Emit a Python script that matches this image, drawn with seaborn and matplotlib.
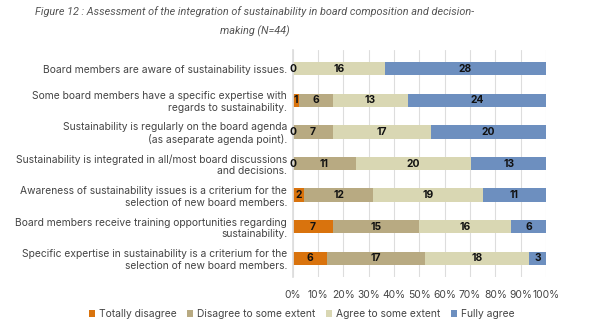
import matplotlib
matplotlib.use("Agg")
import matplotlib.pyplot as plt
import seaborn as sns
import numpy as np
import pandas as pd
from matplotlib.ticker import PercentFormatter
from matplotlib.patches import Patch

categories = [
    "Board members are aware of sustainability issues.",
    "Some board members have a specific expertise with\nregards to sustainability.",
    "Sustainability is regularly on the board agenda\n(as aseparate agenda point).",
    "Sustainability is integrated in all/most board discussions\nand decisions.",
    "Awareness of sustainability issues is a criterium for the\nselection of new board members.",
    "Board members receive training opportunities regarding\nsustainability.",
    "Specific expertise in sustainability is a criterium for the\nselection of new board members.",
]
series_names = ["Totally disagree", "Disagree to some extent", "Agree to some extent", "Fully agree"]
totally_disagree = [0, 1, 0, 0, 2, 7, 6]
disagree_some = [0, 6, 7, 11, 12, 15, 17]
agree_some = [16, 13, 17, 20, 19, 16, 18]
fully_agree = [28, 24, 20, 13, 11, 6, 3]
x_ticks = [0, 0.1, 0.2, 0.3, 0.4, 0.5, 0.6, 0.7, 0.8, 0.9, 1.0]

colors = ["#D9730D", "#B8AA82", "#D9D7B3", "#6D8FBF"]

sns.set_theme(style="white")
plt.rcParams['font.family'] = ['Inter', 'DejaVu Sans']

counts = np.array([totally_disagree, disagree_some, agree_some, fully_agree], dtype=float)
totals = counts.sum(axis=0)
shares = counts / totals
cum = np.cumsum(shares, axis=0)

fig = plt.figure(figsize=(6.0, 3.28), dpi=100)
ax = fig.add_axes([0.488, 0.155, 0.422, 0.693])

for i in range(3, -1, -1):
    df = pd.DataFrame({"cat": categories, "val": cum[i]})
    sns.barplot(data=df, x="val", y="cat", orient="h", color=colors[i],
                width=0.42, ax=ax, saturation=1, linewidth=0)

# value labels
for j in range(len(categories)):
    shown_zero = False
    for i in range(4):
        v = counts[i, j]
        if v == 0:
            if shown_zero:
                continue
            shown_zero = True
            ax.text(0.0, j, "0", ha="center", va="center", fontsize=7.4,
                    fontweight="bold", color="#111111")
            continue
        x = cum[i, j] - shares[i, j] / 2
        ax.text(x, j, f"{int(v)}", ha="center", va="center", fontsize=7.4,
                fontweight="bold", color="#111111")

ax.set_xlim(0, 1)
ax.set_xticks(x_ticks)
ax.xaxis.set_major_formatter(PercentFormatter(1.0, decimals=0))
ax.set_xlabel("")
ax.set_ylabel("")
ax.grid(axis="x", color="#DDDDDD", linewidth=0.8)
ax.set_axisbelow(True)
for s in ["top", "right", "bottom"]:
    ax.spines[s].set_visible(False)
ax.spines["left"].set_color("#DDDDDD")
ax.tick_params(axis="x", length=4, color="#DDDDDD", labelsize=7.4, labelcolor="#444444", pad=5)
ax.tick_params(axis="y", length=0, labelsize=7.4, labelcolor="#444444", pad=4)
ax.set_ylim(6.6, -0.6)

title_font = ['Roboto', 'DejaVu Sans']
fig.text(0.425, 0.965, "Figure 12 : Assessment of the integration of sustainability in board composition and decision-",
         ha="center", va="center", fontsize=7.8, style="italic", color="#555555", family=title_font)
fig.text(0.425, 0.905, "making (N=44)", ha="center", va="center", fontsize=7.8,
         style="italic", color="#555555", family=title_font)

handles = [Patch(facecolor=c, edgecolor="none") for c in colors]
fig.legend(handles, series_names, loc="center", bbox_to_anchor=(0.503, 0.043), ncol=4,
           frameon=False, fontsize=7.4, handlelength=0.6, handleheight=0.6,
           handletextpad=0.4, columnspacing=1.0, labelcolor="#444444")

fig.savefig("out.png", dpi=100)
